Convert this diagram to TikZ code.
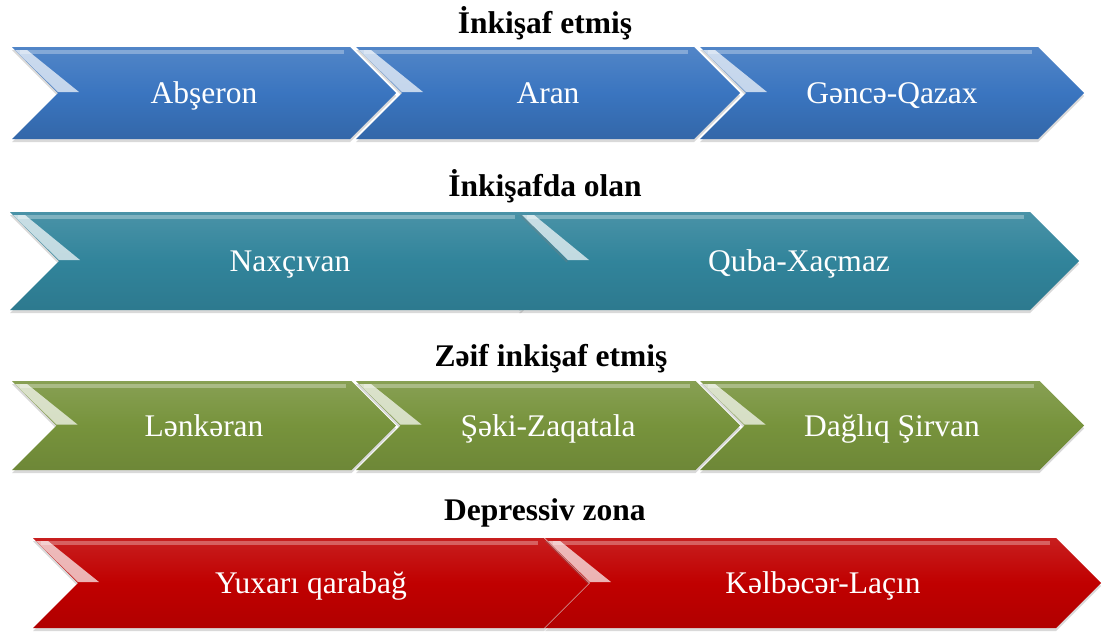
\documentclass[tikz,border=0pt]{standalone}
\usepackage{fontspec}
\setmainfont{Liberation Serif}
\usetikzlibrary{shapes.symbols,shadows,calc}

\definecolor{devBlue}{RGB}{58,117,192}
\definecolor{devTeal}{RGB}{49,132,155}
\definecolor{devGreen}{RGB}{119,147,60}
\definecolor{devRed}{RGB}{192,0,0}

\newcommand{\titlefont}{\fontsize{31.5}{36}\selectfont\bfseries}
\newcommand{\zonefont}{\fontsize{31.5}{36}\selectfont}

\tikzset{
  chev/.style={signal, signal from=west, signal to=east, signal pointer angle=90,
    inner sep=0pt, outer sep=0pt, text=white, font=\zonefont,
    text height=27pt, text depth=6pt,
    drop shadow={shadow xshift=0pt, shadow yshift=-3pt, opacity=0.3}},
  bluechev/.style={chev, top color=devBlue!88!white, bottom color=devBlue!88!black,
    middle color=devBlue, minimum width=384pt, minimum height=92pt},
  tealchev/.style={chev, top color=devTeal!88!white, bottom color=devTeal!92!black,
    middle color=devTeal, minimum width=560pt, minimum height=98pt},
  greenchev/.style={chev, top color=devGreen!88!white, bottom color=devGreen!92!black,
    middle color=devGreen, minimum width=384pt, minimum height=89pt},
  redchev/.style={chev, top color=devRed!88!white, bottom color=devRed!92!black,
    middle color=devRed, minimum width=556pt, minimum height=90pt},
  shine/.style={fill=white, fill opacity=0.7},
  gloss/.style={white, line width=4pt, opacity=0.3},
  zonetitle/.style={font=\titlefont, inner sep=0pt, anchor=base}
}

\begin{document}
\begin{tikzpicture}[x=1pt,y=-1pt]

% size of the page
\useasboundingbox (0,0) rectangle (1107,635);

% row 1
\node[zonetitle] (devtitle) at (545,33) {İnkişaf etmiş};
\node[bluechev] (abs) at (204,93) {Abşeron};
\node[bluechev] (aran) at (548,93) {Aran};
\node[bluechev] (ganja) at (892,93) {Gəncə-Qazax};

% row 2
\node[zonetitle] (midtitle) at (545,196) {İnkişafda olan};
\node[tealchev] (nax) at (290,261) {Naxçıvan};
\node[tealchev] (quba) at (799,261) {Quba-Xaçmaz};

% row 3
\node[zonetitle] (weaktitle) at (551,366) {Zəif inkişaf etmiş};
\node[greenchev] (lank) at (204,425.5) {Lənkəran};
\node[greenchev] (sheki) at (548,425.5) {Şəki-Zaqatala};
\node[greenchev] (dagliq) at (892,425.5) {Dağlıq Şirvan};

% row 4
\node[zonetitle] (deptitle) at (545,520) {Depressiv zona};
\node[redchev] (yux) at (311,583) {Yuxarı qarabağ};
\node[redchev] (kalb) at (823,583) {Kəlbəcər-Laçın};

% gloss on top and shine on the notches
\foreach \ch/\hw/\hh in {abs/192/46,aran/192/46,ganja/192/46,
                          nax/280/49,quba/280/49,
                          lank/192/44.5,sheki/192/44.5,dagliq/192/44.5,
                          yux/278/45,kalb/278/45}
{
  \draw[gloss] ($(\ch.center)+(-\hw+8,-\hh+5)$) -- ($(\ch.center)+(\hw-\hh-6,-\hh+5)$);
  \fill[shine] ($(\ch.center)+(-\hw+3,-\hh+3)$) -- ($(\ch.center)+(-\hw+\hh,-1)$)
    -- ($(\ch.center)+(-\hw+\hh+21,-1)$) -- ($(\ch.center)+(-\hw+15,-\hh+3)$) -- cycle;
}

\end{tikzpicture}
\end{document}
